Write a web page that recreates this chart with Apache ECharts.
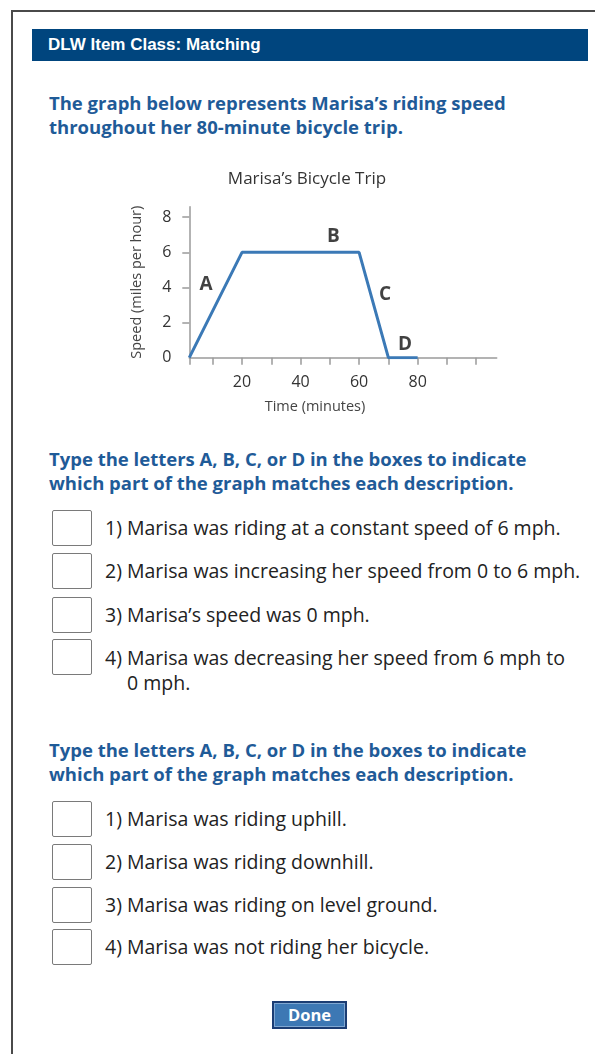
<!DOCTYPE html>
<html>
<head>
<meta charset="utf-8">
<title>Marisa's Bicycle Trip</title>
<script src="https://cdn.jsdelivr.net/npm/echarts@6/dist/echarts.min.js"></script>
<style>
  html, body { margin: 0; padding: 0; background: #fff; }
  body { width: 595px; height: 1054px; position: relative; overflow: hidden; font-family: "Open Sans", "Noto Sans", sans-serif; }
  .frame { position: absolute; left: 11px; top: 10px; right: -10px; bottom: -10px; border-left: 2px solid #4a4a4a; border-top: 2px solid #4a4a4a; }
  .bar { position: absolute; left: 32px; top: 29px; width: 556px; height: 32px; background: #00457e; color: #fff;
         font: bold 17px "Liberation Sans", Arial, sans-serif; line-height: 32px; padding-left: 16px; box-sizing: border-box; }
  .prompt { position: absolute; left: 49px; color: #1f5b98; font-weight: bold; font-size: 18.5px; line-height: 24px; margin: 0; white-space: nowrap; }
  .box { position: absolute; left: 52px; width: 40px; height: 36px; box-sizing: border-box; border: 1.5px solid #7a7a7a; border-radius: 2px; background: #fff; }
  .row { position: absolute; left: 105px; color: #222; font-size: 19.5px; line-height: 25px; margin: 0; white-space: nowrap; }
  .row .cont { display: block; padding-left: 22px; }
  #chart { position: absolute; left: 0; top: 150px; width: 595px; height: 280px; }
  .done { position: absolute; left: 272px; top: 1001px; width: 75px; height: 28px; box-sizing: border-box;
          background: #3d78b4; border: 2px solid #1b3d73; box-shadow: inset 0 0 0 1px #7fa7d2;
          color: #fff; font-weight: bold; font-size: 16.5px; line-height: 24px; text-align: center; }
</style>
</head>
<body>
<div class="frame"></div>
<div class="bar">DLW Item Class: Matching</div>

<p class="prompt" style="top:91px">The graph below represents Marisa’s riding speed<br>throughout her 80-minute bicycle trip.</p>

<div id="chart"></div>

<p class="prompt" style="top:447px">Type the letters A, B, C, or D in the boxes to indicate<br>which part of the graph matches each description.</p>

<div class="box" style="top:510px"></div>
<p class="row" style="top:515px">1) Marisa was riding at a constant speed of 6 mph.</p>
<div class="box" style="top:553px"></div>
<p class="row" style="top:558px">2) Marisa was increasing her speed from 0 to 6 mph.</p>
<div class="box" style="top:597px"></div>
<p class="row" style="top:602px">3) Marisa’s speed was 0 mph.</p>
<div class="box" style="top:639px"></div>
<p class="row" style="top:645px">4) Marisa was decreasing her speed from 6 mph to<span class="cont">0 mph.</span></p>

<p class="prompt" style="top:738px">Type the letters A, B, C, or D in the boxes to indicate<br>which part of the graph matches each description.</p>

<div class="box" style="top:801px"></div>
<p class="row" style="top:806px">1) Marisa was riding uphill.</p>
<div class="box" style="top:844px"></div>
<p class="row" style="top:849px">2) Marisa was riding downhill.</p>
<div class="box" style="top:887px"></div>
<p class="row" style="top:892px">3) Marisa was riding on level ground.</p>
<div class="box" style="top:929px"></div>
<p class="row" style="top:934px">4) Marisa was not riding her bicycle.</p>

<div class="done">Done</div>

<script>
// data
const timeMin = [2, 20, 60, 70, 80]
const speedMph = [0, 6, 6, 0, 0]

// letters marking the four parts of the graph
const segNames = ['A', 'B', 'C', 'D']
const segX = [7.7, 51.2, 68.9, 75.7]
const segY = [4.15, 6.9, 3.57, 0.76]

// tick and label values
const xTicks = [2, 10, 20, 30, 40, 50, 60, 70, 80, 90, 100]
const xLabels = [20, 40, 60, 80]
const yTicks = [2, 4, 6, 8]
const yLabels = [0, 2, 4, 6, 8]

const myChart = echarts.init(document.getElementById('chart'))

const axisColor = '#9a9a9a'
const font = '"Open Sans", "Noto Sans", sans-serif'

const option = {
  animation: false,
  graphic: [{
    type: 'text',
    x: 307,
    y: 29,
    style: {
      text: 'Marisa’s Bicycle Trip',
      textAlign: 'center',
      textVerticalAlign: 'middle',
      fontFamily: font,
      fontSize: 17,
      fill: '#333'
    }
  }],
  grid: {
    left: 189.3,
    right: 98.3,
    top: 56.7,
    height: 151
  },
  xAxis: {
    type: 'value',
    min: 2,
    max: 107,
    name: 'Time (minutes)',
    nameLocation: 'middle',
    nameGap: 42,
    nameTextStyle: { fontFamily: font, fontSize: 14.5, color: '#444', padding: [0, 56, 0, 0] },
    axisLine: { show: true, lineStyle: { color: axisColor, width: 1.5 } },
    axisTick: { show: true, length: 7, customValues: xTicks, lineStyle: { color: axisColor, width: 1.5 } },
    axisLabel: { customValues: xLabels, margin: 17, fontFamily: font, fontSize: 16, color: '#333' },
    splitLine: { show: false }
  },
  yAxis: {
    type: 'value',
    min: 0,
    max: 8.6,
    name: 'Speed (miles per hour)',
    nameLocation: 'middle',
    nameGap: 45,
    nameRotate: 90,
    nameTextStyle: { fontFamily: font, fontSize: 14.5, color: '#444' },
    axisLine: { show: true, lineStyle: { color: axisColor, width: 1.5 } },
    axisTick: { show: true, length: 7, customValues: yTicks, lineStyle: { color: axisColor, width: 1.5 } },
    axisLabel: { customValues: yLabels, margin: 18, fontFamily: font, fontSize: 16, color: '#333' },
    splitLine: { show: false }
  },
  series: [
    {
      name: 'Speed',
      type: 'line',
      data: timeMin.map((t, i) => [t, speedMph[i]]),
      showSymbol: false,
      lineStyle: { color: '#3b79b6', width: 3 },
      color: '#3b79b6'
    },
    {
      name: 'Parts',
      type: 'scatter',
      symbolSize: 0,
      silent: true,
      data: segNames.map((n, i) => ({ name: n, value: [segX[i], segY[i]] })),
      label: {
        show: true,
        position: 'inside',
        formatter: p => p.name,
        fontFamily: font,
        fontWeight: 'bold',
        fontSize: 19,
        color: '#111'
      }
    }
  ]
}

myChart.setOption(option)
</script>
</body>
</html>
